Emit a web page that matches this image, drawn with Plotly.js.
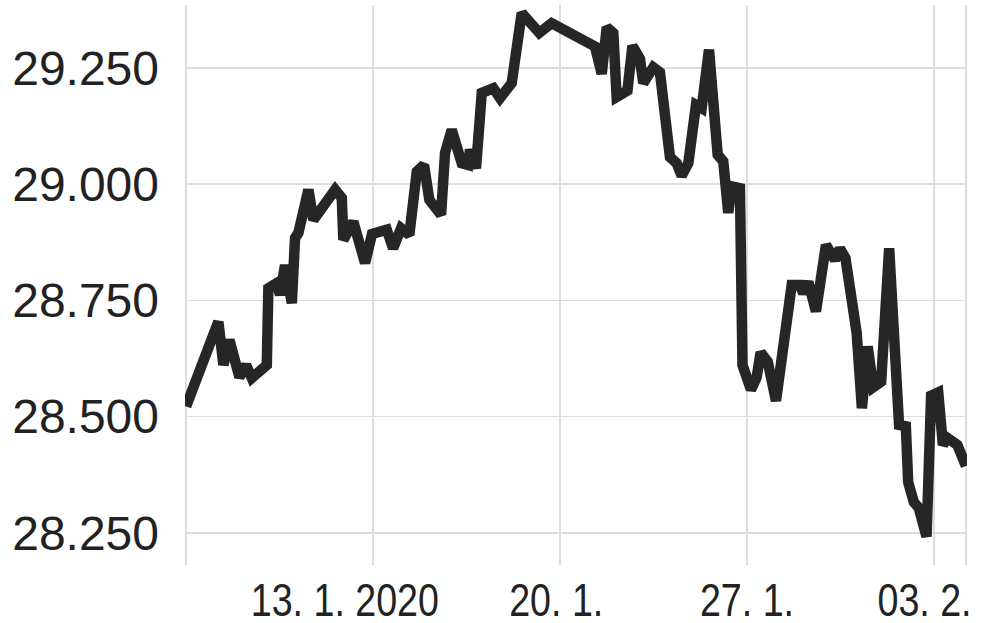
<!DOCTYPE html>
<html>
<head>
<meta charset="utf-8">
<script src="https://cdn.plot.ly/plotly-3.0.1.min.js"></script>
<style>html,body{margin:0;padding:0;background:#fff;}#chart{width:1000px;height:623px;}</style>
</head>
<body>
<div id="chart"></div>
<script>
const dates = [
"2020-01-06 00:00","2020-01-07 05:00","2020-01-07 09:30","2020-01-07 14:54","2020-01-07 23:54",
"2020-01-08 05:54","2020-01-08 11:00","2020-01-09 00:30","2020-01-09 01:54","2020-01-09 09:30",
"2020-01-09 12:24","2020-01-09 16:54","2020-01-09 23:00","2020-01-10 01:54","2020-01-10 04:54",
"2020-01-10 13:54","2020-01-10 18:24","2020-01-11 13:54","2020-01-11 19:54","2020-01-11 21:18",
"2020-01-12 06:18","2020-01-12 16:48","2020-01-12 23:06","2020-01-13 12:18","2020-01-13 18:00",
"2020-01-14 01:12","2020-01-14 08:36","2020-01-14 15:18","2020-01-14 21:48","2020-01-15 02:36",
"2020-01-15 13:06","2020-01-15 16:42","2020-01-15 22:42","2020-01-16 07:42","2020-01-16 13:36",
"2020-01-16 15:06","2020-01-16 20:30","2020-01-17 01:42","2020-01-17 12:06","2020-01-17 18:06",
"2020-01-18 04:36","2020-01-18 13:36","2020-01-19 05:24","2020-01-19 16:30","2020-01-21 07:24",
"2020-01-21 13:30","2020-01-21 18:00","2020-01-21 23:54","2020-01-22 02:54","2020-01-22 12:36",
"2020-01-22 17:06","2020-01-22 23:54","2020-01-23 02:48","2020-01-23 11:48","2020-01-23 17:48",
"2020-01-24 02:48","2020-01-24 08:48","2020-01-24 13:18","2020-01-24 19:18","2020-01-25 02:12",
"2020-01-25 07:18","2020-01-25 13:54","2020-01-25 21:42","2020-01-26 02:42","2020-01-26 07:12",
"2020-01-26 10:18","2020-01-26 17:42","2020-01-26 20:00","2020-01-27 03:36","2020-01-27 08:42",
"2020-01-27 12:18","2020-01-27 18:42","2020-01-28 02:06","2020-01-28 13:06","2020-01-28 16:12",
"2020-01-28 23:36","2020-01-29 02:36","2020-01-29 07:06","2020-01-29 14:00","2020-01-29 23:00",
"2020-01-30 07:06","2020-01-30 11:36","2020-01-30 16:30","2020-01-31 02:36","2020-01-31 07:18",
"2020-01-31 12:30","2020-01-31 17:30","2020-02-01 00:36","2020-02-01 07:48","2020-02-01 16:42",
"2020-02-01 22:48","2020-02-02 00:54","2020-02-02 06:00","2020-02-02 10:24","2020-02-02 17:24",
"2020-02-02 21:30","2020-02-03 03:54","2020-02-03 08:06","2020-02-03 12:06","2020-02-03 21:06",
"2020-02-04 04:48"
];
const values = [
28.522,28.704,28.611,28.665,28.585,
28.611,28.583,28.611,28.776,28.787,
28.762,28.826,28.744,28.884,28.895,
28.988,28.923,28.988,28.970,28.880,
28.919,28.830,28.893,28.902,28.862,
28.905,28.891,29.027,29.041,28.966,
28.934,29.067,29.117,29.045,29.041,
29.074,29.034,29.196,29.206,29.185,
29.217,29.368,29.325,29.346,29.296,
29.237,29.337,29.325,29.187,29.201,
29.297,29.269,29.217,29.251,29.240,
29.058,29.045,29.018,29.045,29.170,
29.163,29.289,29.063,29.049,28.938,
28.995,28.991,28.611,28.558,28.584,
28.638,28.618,28.534,28.758,28.783,
28.783,28.765,28.790,28.726,28.869,
28.837,28.861,28.841,28.680,28.518,
28.651,28.563,28.575,28.862,28.482,
28.479,28.359,28.316,28.304,28.242,
28.545,28.552,28.439,28.454,28.439,
28.394
];
const yTickVals = [28.25, 28.5, 28.75, 29.0, 29.25];
const yTickText = ["28.250", "28.500", "28.750", "29.000", "29.250"];
const xTickVals = ["2020-01-06", "2020-01-13", "2020-01-20", "2020-01-27", "2020-02-03", "2020-02-04 04:48"];
const xTickText = ["", "13. 1. 2020\u2003\u2002", "20. 1.\u2009", "27. 1.", "03. 2.\u2002", ""];

const trace = {
  x: dates, y: values, type: "scatter", mode: "lines",
  line: {color: "#262626", width: 10.5, shape: "linear"},
  hoverinfo: "skip"
};
const layout = {
  width: 1000, height: 623,
  margin: {l: 185, r: 33, t: 5, b: 58, pad: 0, autoexpand: false},
  paper_bgcolor: "#ffffff", plot_bgcolor: "#ffffff",
  showlegend: false,
  xaxis: {
    type: "date",
    range: ["2020-01-05 23:00", "2020-02-04 05:45"],
    tickmode: "array", tickvals: xTickVals, ticktext: xTickText,
    tickangle: 0, automargin: false, ticklabeloverflow: "allow",
    showgrid: true, gridcolor: "#dddddd", gridwidth: 1.5,
    zeroline: false, showline: false, ticks: "",
    ticklabelstandoff: 3,
    tickfont: {family: "Liberation Sans, Arial", size: 47, color: "#222222"}
  },
  yaxis: {
    range: [28.181, 29.385],
    tickmode: "array", tickvals: yTickVals, ticktext: yTickText,
    automargin: false, ticklabeloverflow: "allow",
    showgrid: true, gridcolor: "#dddddd", gridwidth: 1.5,
    zeroline: false, showline: false, ticks: "",
    ticklabelstandoff: 25,
    tickfont: {family: "Liberation Sans, Arial", size: 48, color: "#222222"}
  }
};
Plotly.newPlot("chart", [trace], layout, {staticPlot: true, displayModeBar: false}).then(function () {
  document.querySelectorAll("#chart .xtick text").forEach(function (t) {
    const tr = t.getAttribute("transform") || "";
    t.setAttribute("transform", tr + " scale(0.8,1)");
  });
});
</script>
</body>
</html>
